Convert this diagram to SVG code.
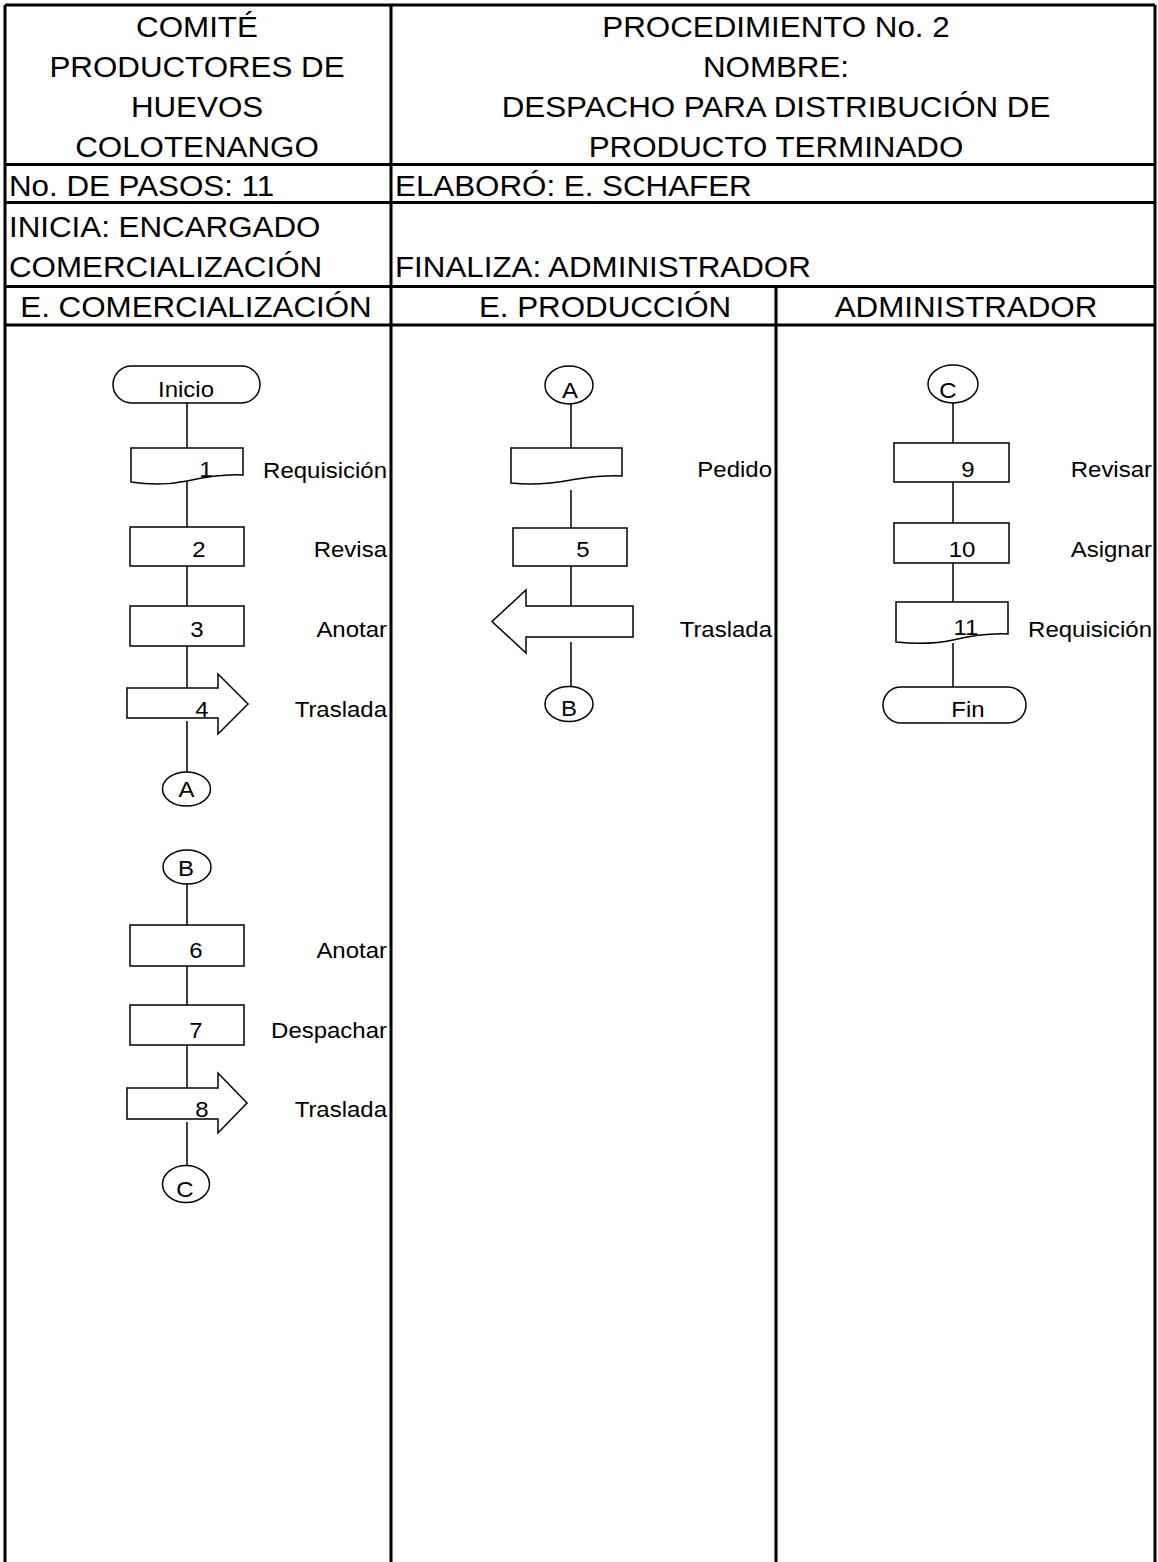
<svg xmlns="http://www.w3.org/2000/svg" width="1158" height="1562" viewBox="0 0 1158 1562">
<style>
.grid{stroke:#000;stroke-width:3;fill:none}
.shape{fill:#fff;stroke:#000;stroke-width:1.5}
.conn{stroke:#000;stroke-width:1.5;fill:none}
.h{font-family:"Liberation Sans",Arial,sans-serif;font-size:29px;fill:#000}
.t{font-family:"Liberation Sans",Arial,sans-serif;font-size:22px;fill:#000}
.m{text-anchor:middle}
.e{text-anchor:end}
</style>
<rect x="0" y="0" width="1158" height="1562" fill="#fff"/>
<g id="grid">
<path class="grid" d="M5,5 H1155 M5,5 V1562 M1155,5 V1562 M391,5 V1562 M776,286.5 V1562 M5,164.5 H1155 M5,202.5 H1155 M5,286.5 H1155 M5,325 H1155"/>
</g>
<g id="header">
<text class="h m" transform="translate(197,37) scale(1.08,1)">COMITÉ</text>
<text class="h m" transform="translate(197,77) scale(1.08,1)">PRODUCTORES DE</text>
<text class="h m" transform="translate(197,117) scale(1.08,1)">HUEVOS</text>
<text class="h m" transform="translate(197,157) scale(1.08,1)">COLOTENANGO</text>
<text class="h m" transform="translate(776,37) scale(1.08,1)">PROCEDIMIENTO No. 2</text>
<text class="h m" transform="translate(776,77) scale(1.08,1)">NOMBRE:</text>
<text class="h m" transform="translate(776,117) scale(1.08,1)">DESPACHO PARA DISTRIBUCIÓN DE</text>
<text class="h m" transform="translate(776,157) scale(1.08,1)">PRODUCTO TERMINADO</text>
<text class="h" transform="translate(9,196) scale(1.08,1)">No. DE PASOS: 11</text>
<text class="h" transform="translate(395,196) scale(1.08,1)">ELABORÓ: E. SCHAFER</text>
<text class="h" transform="translate(9,237) scale(1.08,1)">INICIA: ENCARGADO</text>
<text class="h" transform="translate(9,277) scale(1.08,1)">COMERCIALIZACIÓN</text>
<text class="h" transform="translate(395,277) scale(1.08,1)">FINALIZA: ADMINISTRADOR</text>
<text class="h m" transform="translate(196,317) scale(1.08,1)">E. COMERCIALIZACIÓN</text>
<text class="h m" transform="translate(605,317) scale(1.08,1)">E. PRODUCCIÓN</text>
<text class="h m" transform="translate(966,317) scale(1.08,1)">ADMINISTRADOR</text>
</g>
<g id="connectors">
<path class="conn" d="M187,403 V448 M187,482 V527 M187,566 V606 M187,646 V689 M187,721 V772"/>
<path class="conn" d="M187,884 V925 M187,962 V1005 M187,1045 V1089 M187,1122 V1166"/>
<path class="conn" d="M571,404 V448 M571,490 V528 M571,566 V606 M571,642 V686"/>
<path class="conn" d="M953,403 V443 M953,482 V523 M953,560 V602 M953,643 V687"/>
</g>
<g id="inicio"><rect class="shape" x="113" y="366" width="147" height="37" rx="18.5"/><text class="t m" transform="translate(186,397) scale(1.09,1)">Inicio</text></g>
<g id="paso1"><path class="shape" d="M131,448 H243 V475 C222,474 205,477 187,481 C168,485 150,485 131,482 Z"/><text class="t m" transform="translate(206,477) scale(1.09,1)">1</text><text class="t e" transform="translate(387,478) scale(1.09,1)">Requisición</text></g>
<g id="paso2"><rect class="shape" x="130" y="527" width="114" height="39"/><text class="t m" transform="translate(199,557) scale(1.09,1)">2</text><text class="t e" transform="translate(387,557) scale(1.09,1)">Revisa</text></g>
<g id="paso3"><rect class="shape" x="130" y="606" width="114" height="40"/><text class="t m" transform="translate(197,637) scale(1.09,1)">3</text><text class="t e" transform="translate(387,637) scale(1.09,1)">Anotar</text></g>
<g id="paso4"><path class="shape" d="M127,688 H218 V674 L248,704 L218,734 V718 H127 Z"/><text class="t m" transform="translate(202,717) scale(1.09,1)">4</text><text class="t e" transform="translate(387,717) scale(1.09,1)">Traslada</text></g>
<g id="conA1"><ellipse class="shape" cx="186.5" cy="789" rx="24" ry="17"/><text class="t m" transform="translate(186.5,797) scale(1.09,1)">A</text></g>
<g id="conB2"><ellipse class="shape" cx="187" cy="867" rx="24" ry="17"/><text class="t m" transform="translate(186,876) scale(1.09,1)">B</text></g>
<g id="paso6"><rect class="shape" x="130" y="925" width="114" height="41"/><text class="t m" transform="translate(196,958) scale(1.09,1)">6</text><text class="t e" transform="translate(387,958) scale(1.09,1)">Anotar</text></g>
<g id="paso7"><rect class="shape" x="130" y="1005" width="114" height="40"/><text class="t m" transform="translate(196,1038) scale(1.09,1)">7</text><text class="t e" transform="translate(387,1038) scale(1.09,1)">Despachar</text></g>
<g id="paso8"><path class="shape" d="M127,1088 H218 V1073 L247,1103 L218,1133 V1119 H127 Z"/><text class="t m" transform="translate(202,1117) scale(1.09,1)">8</text><text class="t e" transform="translate(387,1117) scale(1.09,1)">Traslada</text></g>
<g id="conC1"><ellipse class="shape" cx="186" cy="1184" rx="23.5" ry="18.5"/><text class="t m" transform="translate(185,1197) scale(1.09,1)">C</text></g>
<g id="conA2"><ellipse class="shape" cx="569" cy="385" rx="24" ry="19"/><text class="t m" transform="translate(570,398) scale(1.09,1)">A</text></g>
<g id="pedido"><path class="shape" d="M511,448 H622 V476 C600,475 585,478 571,480 C550,484 530,485 511,483 Z"/><text class="t e" transform="translate(772,477) scale(1.09,1)">Pedido</text></g>
<g id="paso5"><rect class="shape" x="513" y="528" width="114" height="38"/><text class="t m" transform="translate(583,557) scale(1.09,1)">5</text></g>
<g id="traslada2"><path class="shape" d="M633,606 H526 V590 L492,621.5 L526,653 V637 H633 Z"/><text class="t e" transform="translate(772,637) scale(1.09,1)">Traslada</text></g>
<g id="conB1"><ellipse class="shape" cx="569" cy="704" rx="24" ry="17.5"/><text class="t m" transform="translate(569,716) scale(1.09,1)">B</text></g>
<g id="conC2"><ellipse class="shape" cx="953" cy="384" rx="25" ry="19"/><text class="t m" transform="translate(948,398) scale(1.09,1)">C</text></g>
<g id="paso9"><rect class="shape" x="894" y="443" width="115" height="39"/><text class="t m" transform="translate(968,477) scale(1.09,1)">9</text><text class="t e" transform="translate(1152,477) scale(1.09,1)">Revisar</text></g>
<g id="paso10"><rect class="shape" x="894" y="523" width="115" height="40"/><text class="t m" transform="translate(962,557) scale(1.09,1)">10</text><text class="t e" transform="translate(1152,557) scale(1.09,1)">Asignar</text></g>
<g id="paso11"><path class="shape" d="M896,602 H1008 V634 C988,633 970,636 953,640 C935,644 915,644 896,642 Z"/><text class="t m" transform="translate(966,635) scale(1.09,1)">11</text><text class="t e" transform="translate(1152,637) scale(1.09,1)">Requisición</text></g>
<g id="fin"><rect class="shape" x="883" y="687" width="143" height="36" rx="18"/><text class="t m" transform="translate(968,717) scale(1.09,1)">Fin</text></g>
</svg>
